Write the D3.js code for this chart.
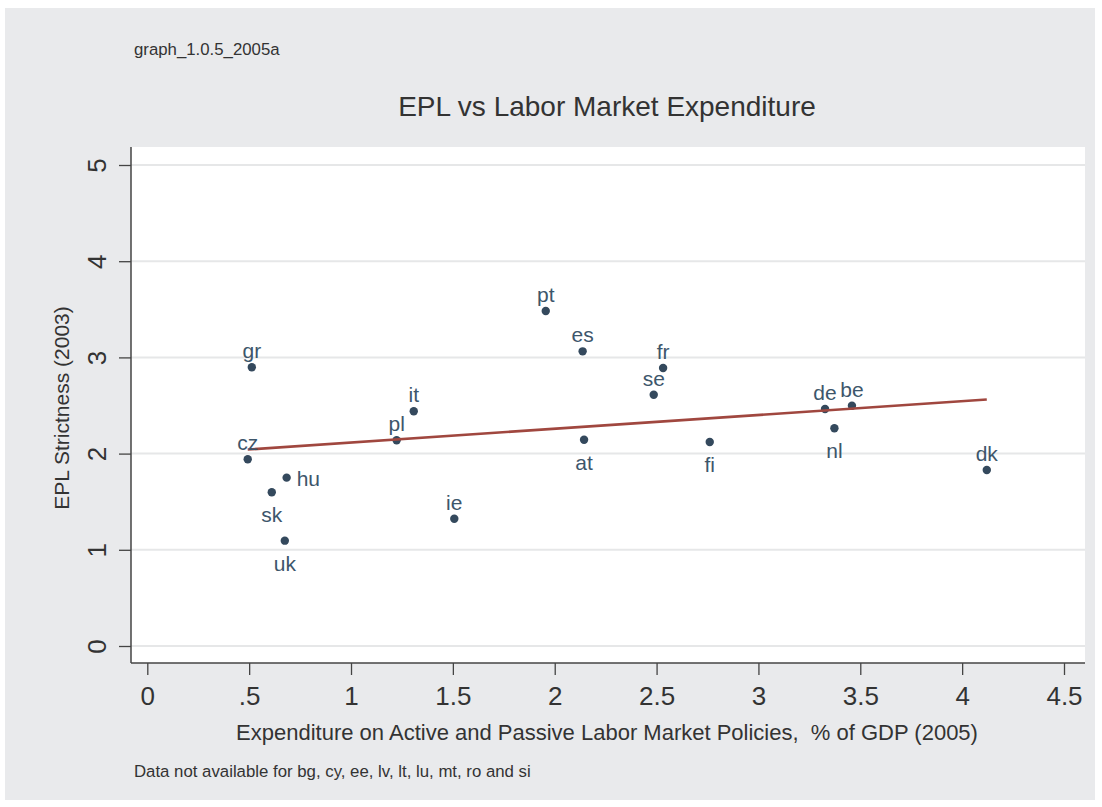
<!DOCTYPE html>
<html lang="en">
<head>
<meta charset="UTF-8">
<title>EPL vs Labor Market Expenditure</title>
<style>
  body { margin: 0; background: #fff; }
  text { font-family: "Liberation Sans", Arial, Helvetica, sans-serif; }
</style>
</head>
<body>
<svg id="chart" width="1102" height="807"></svg>
<script src="https://d3js.org/d3.v7.min.js"></script>
<script>

// countries, spending (% of GDP 2005) and EPL strictness (2003)
var countries = ["gr","cz","hu","sk","uk","pl","it","ie","pt","es","at","se","fr","fi","de","be","nl","dk"];
var spending  = [0.513,0.493,0.684,0.611,0.675,1.224,1.308,1.507,1.956,2.137,2.144,2.486,2.532,2.761,3.327,3.459,3.373,4.121];
var epl       = [2.897,1.941,1.750,1.598,1.095,2.138,2.440,1.323,3.482,3.063,2.144,2.612,2.890,2.121,2.464,2.498,2.263,1.830];
// marker label clock position (stata mlabvpos)
var labelPos  = [12,12,3,6,6,12,12,12,12,12,6,12,12,6,12,12,6,12];

var xTicks = [0,0.5,1,1.5,2,2.5,3,3.5,4,4.5];
var yTicks = [0,1,2,3,4,5];

var svg = d3.select("#chart");

var markerCol = "#34495d",
    labelCol = "#3d566b",
    fitCol = "#a0473f",
    textCol = "#333333";

// outer gray background
svg.append("rect").attr("x",5).attr("y",8).attr("width",1090).attr("height",792).attr("fill","#e9eaec");

var plot = {left:131, top:147, right:1085, bottom:663};

var x = d3.scaleLinear().domain([0,4.5]).range([147.3,1064]);
var y = d3.scaleLinear().domain([0,5]).range([646,165]);

svg.append("rect")
  .attr("x",plot.left).attr("y",plot.top)
  .attr("width",plot.right-plot.left).attr("height",plot.bottom-plot.top)
  .attr("fill","#fff");

// grid
svg.selectAll(".grid").data(yTicks).enter().append("line")
  .attr("x1",plot.left).attr("x2",plot.right)
  .attr("y1",function(d){return y(d);}).attr("y2",function(d){return y(d);})
  .attr("stroke","#e6e7e8").attr("stroke-width",2);

// stata style numbers: .5 instead of 0.5
function stataNum(d) { return String(d).replace(/^0\./,"."); }

// y axis
var yAxis = svg.append("g").attr("transform","translate("+plot.left+",0)")
  .call(d3.axisLeft(y).tickValues(yTicks).tickSize(12).tickFormat(stataNum));
yAxis.select(".domain").remove();
yAxis.selectAll(".tick line").attr("stroke","#444").attr("stroke-width",1.3);
yAxis.selectAll(".tick text")
  .attr("transform","rotate(-90)")
  .attr("x",0).attr("y",-25).attr("dy",0)
  .attr("text-anchor","middle")
  .style("font-size","26px").attr("fill",textCol);

// x axis
var xAxis = svg.append("g").attr("transform","translate(0,"+plot.bottom+")")
  .call(d3.axisBottom(x).tickValues(xTicks).tickSize(12).tickPadding(12).tickFormat(stataNum));
xAxis.select(".domain").remove();
xAxis.selectAll(".tick line").attr("stroke","#444").attr("stroke-width",1.3);
xAxis.selectAll(".tick text").style("font-size","26px").attr("fill",textCol);

// axis lines
svg.append("line").attr("x1",plot.left).attr("x2",plot.left).attr("y1",plot.top).attr("y2",plot.bottom)
  .attr("stroke","#444").attr("stroke-width",1.5);
svg.append("line").attr("x1",plot.left).attr("x2",plot.right).attr("y1",plot.bottom).attr("y2",plot.bottom)
  .attr("stroke","#444").attr("stroke-width",1.5);

// OLS fit
var pts = countries.map(function(c,i){ return {id:c, x:spending[i], y:epl[i], pos:labelPos[i]}; });
var mx = d3.mean(spending), my = d3.mean(epl);
var sxy = d3.sum(pts, function(p){ return (p.x-mx)*(p.y-my); });
var sxx = d3.sum(pts, function(p){ return (p.x-mx)*(p.x-mx); });
var slope = sxy/sxx, icpt = my - slope*mx;
var xr = d3.extent(spending);

// points
svg.selectAll(".pt").data(pts).enter().append("circle")
  .attr("cx",function(d){return x(d.x);}).attr("cy",function(d){return y(d.y);})
  .attr("r",4.2).attr("fill",markerCol);

svg.append("line")
  .attr("x1",x(xr[0])).attr("y1",y(icpt+slope*xr[0]))
  .attr("x2",x(xr[1])).attr("y2",y(icpt+slope*xr[1]))
  .attr("stroke",fitCol).attr("stroke-width",2.6);

// labels
svg.selectAll(".lab").data(pts).enter().append("text")
  .attr("x",function(d){ return x(d.x) + (d.pos==3 ? 10 : 0); })
  .attr("y",function(d){ return y(d.y) + (d.pos==12 ? -9 : d.pos==6 ? 30 : 8); })
  .attr("text-anchor",function(d){ return d.pos==3 ? "start" : "middle"; })
  .style("font-size","21px").attr("fill",labelCol)
  .text(function(d){ return d.id; });

// titles
svg.append("text").attr("x",134).attr("y",55).style("font-size","16.8px").attr("fill",textCol)
  .text("graph_1.0.5_2005a");
svg.append("text").attr("x",607).attr("y",116).attr("text-anchor","middle").style("font-size","28px").attr("fill",textCol)
  .text("EPL vs Labor Market Expenditure");
svg.append("text").attr("transform","translate(69,"+((plot.top+plot.bottom)/2 + 3)+") rotate(-90)")
  .attr("text-anchor","middle").style("font-size","21px").attr("fill",textCol)
  .text("EPL Strictness (2003)");
svg.append("text").attr("x",607).attr("y",740).attr("text-anchor","middle").style("font-size","22px").attr("fill",textCol)
  .style("white-space","pre")
  .text("Expenditure on Active and Passive Labor Market Policies,  % of GDP (2005)");
svg.append("text").attr("x",134).attr("y",777).style("font-size","16.8px").attr("fill",textCol)
  .text("Data not available for bg, cy, ee, lv, lt, lu, mt, ro and si");

</script>
</body>
</html>
